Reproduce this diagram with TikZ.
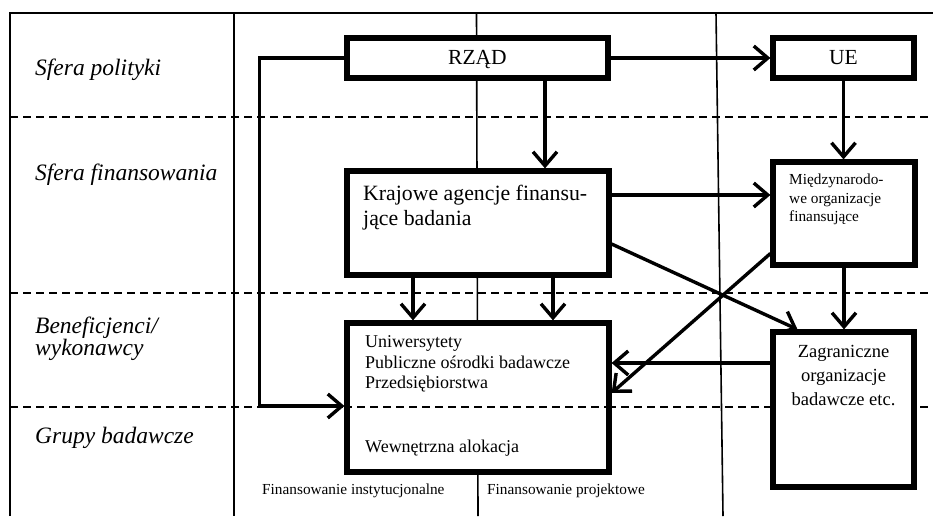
\documentclass[tikz,border=0pt]{standalone}
\usepackage{fontspec}
\setmainfont{Liberation Serif}
\usetikzlibrary{arrows.meta}
\begin{document}
\begin{tikzpicture}[x=1pt,y=-1pt,
  frameline/.style={line width=1.6pt},
  sepline/.style={line width=1.7pt, dash pattern=on 8pt off 5pt},
  box/.style={draw, line width=5.2pt, fill=white, inner sep=0pt, text height=14pt, text depth=0pt, font=\fontsize{21.5}{25}\selectfont},
  conn/.style={line width=3.4pt, -{Straight Barb[length=14pt,width=24pt]}},
  rowlabel/.style={anchor=base west, inner sep=0pt, font=\fontsize{23.5}{27}\selectfont\itshape},
  bigtext/.style={anchor=base west, inner sep=0pt, font=\fontsize{21.8}{25}\selectfont},
  midtext/.style={anchor=base west, inner sep=0pt, font=\fontsize{18}{21}\selectfont},
  ctrtext/.style={anchor=base, inner sep=0pt, font=\fontsize{18.5}{21}\selectfont},
  smalltext/.style={anchor=base west, inner sep=0pt, font=\fontsize{15.3}{18}\selectfont}]
\fill[white] (0,0) rectangle (933,516);
\useasboundingbox (0,0) rectangle (933,516);

% frame and column lines
\draw[frameline] (10,516) -- (10,13) -- (933,13);
\draw[frameline] (234,13) -- (234,516);
\draw[frameline] (476.5,13) -- (478,516);
\draw[frameline] (716,13) -- (723,516);

% row separators
\draw[sepline] (10,117) -- (933,117);
\draw[sepline] (10,293) -- (933,293);
\draw[sepline] (10,407) -- (933,407);

% boxes
\node[box, minimum width=261pt, minimum height=40pt] (rzad) at (477.5,58) {RZĄD};
\node[box, minimum width=141pt, minimum height=40pt] (ue) at (843.5,58) {UE};
\node[box, minimum width=262pt, minimum height=104pt] (kraj) at (478,223) {};
\node[box, minimum width=142pt, minimum height=103pt] (mied) at (844,213.5) {};
\node[box, minimum width=262pt, minimum height=149pt] (benef) at (478,397.5) {};
\node[box, minimum width=141pt, minimum height=155pt] (zagr) at (843.5,409.5) {};
\draw[sepline] ([yshift=-9.5pt]benef.west) -- ([yshift=-9.5pt]benef.east);

% row labels
\node[rowlabel] (l1) at (35,76) {Sfera polityki};
\node[rowlabel] (l2) at (35,180) {Sfera finansowania};
\node[rowlabel] (l3a) at (35,333) {Beneficjenci/};
\node[rowlabel] (l3b) at (35,355) {wykonawcy};
\node[rowlabel] (l4) at (35,443) {Grupy badawcze};

% box texts
\node[bigtext] (k1) at (363,200) {Krajowe agencje finansu-};
\node[bigtext] (k2) at (363,225) {jące badania};
\node[midtext] (b1) at (365,347) {Uniwersytety};
\node[midtext] (b2) at (365,368) {Publiczne ośrodki badawcze};
\node[midtext] (b3) at (365,388) {Przedsiębiorstwa};
\node[midtext] (b4) at (365,452) {Wewnętrzna alokacja};
\node[smalltext] (m1) at (789,184) {Międzynarodo-};
\node[smalltext] (m2) at (789,203) {we organizacje};
\node[smalltext] (m3) at (789,221) {finansujące};
\node[ctrtext] (z1) at (843.5,357) {Zagraniczne};
\node[ctrtext] (z2) at (843.5,381) {organizacje};
\node[ctrtext] (z3) at (843.5,405) {badawcze etc.};
\node[smalltext] (f1) at (262,494) {Finansowanie instytucjonalne};
\node[smalltext] (f2) at (487,494) {Finansowanie projektowe};

% connectors
\draw[conn] (rzad.east) -- (ue.west);
\draw[conn] ([xshift=67.5pt]rzad.south) -- ([xshift=67.5pt]rzad.south |- kraj.north);
\draw[conn] (rzad.west) -- ++(-85,0) |- ([yshift=-8.5pt]benef.west);
\draw[conn] (ue.south) -- (ue.south |- mied.north);
\draw[conn] ([yshift=28pt]kraj.east) -- ([yshift=28pt]kraj.east -| mied.west);
\draw[conn] ([xshift=-65pt]kraj.south) -- ([xshift=-65pt]benef.north);
\draw[conn] ([xshift=75pt]kraj.south) -- ([xshift=75pt]benef.north);
\draw[conn] ([yshift=-21pt]kraj.east) -- ([xshift=-46pt]zagr.north);
\draw[conn] ([yshift=-40pt]mied.west) -- ([yshift=4.5pt]benef.east);
\draw[conn] (mied.south) -- (mied.south |- zagr.north);
\draw[conn] ([yshift=46.5pt]zagr.west) -- ([yshift=46.5pt]zagr.west -| benef.east);
\end{tikzpicture}
\end{document}
